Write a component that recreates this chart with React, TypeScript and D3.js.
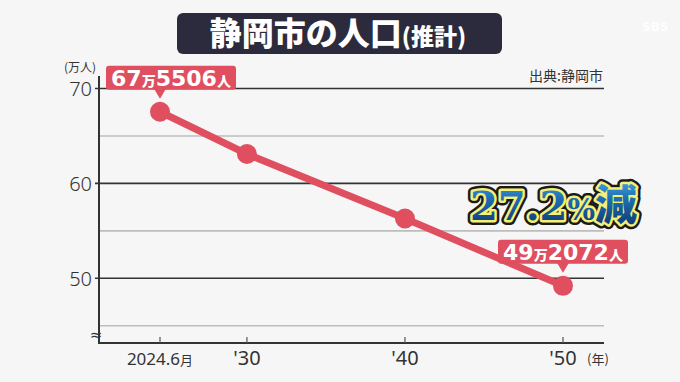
import React from "react";
import * as d3 from "d3";

const years = [2024.5, 2030, 2040, 2050];
const population = [67.5506, 63.1, 56.3, 49.2072];
const xTickLabels = ["2024.6", "'30", "'40", "'50"];
const majorTicks = [50, 60, 70];
const minorTicks = [45, 55, 65];
const calloutMan = ["67", "49"];
const calloutRest = ["5506", "2072"];
const titleMain = "静岡市の人口";
const titleSub = "(推計)";
const sourceText = "出典:静岡市";
const declineText = "27.2";

const W = 680;
const H = 382;
const CJK = "'Noto Sans CJK JP', 'Noto Sans', sans-serif";
const RED = "#df4f5f";
const DARK = "#333";

export default function App() {
  const x = d3.scaleLinear().domain([2024.5, 2050]).range([160, 563]);
  const y = d3.scaleLinear().domain([50, 70]).range([278.3, 88.5]);
  const axisLeft = 99;
  const axisRight = 604;
  const axisBottom = 343;
  const axisTop = 76;
  const pts = years.map((yr, i) => [x(yr), y(population[i])] as [number, number]);
  const line = d3.line<[number, number]>().x((d) => d[0]).y((d) => d[1]);

  const callouts = [
    { i: 0, dx: 11 },
    { i: years.length - 1, dx: 0 },
  ];

  return (
    <svg
      width={W}
      height={H}
      style={{ position: "absolute", left: 0, top: 0, display: "block" }}
      fontFamily={CJK}
    >
      <defs>
        <linearGradient id="blueGrad" x1="0" y1="0" x2="0" y2="1">
          <stop offset="0%" stopColor="#55b8ee" />
          <stop offset="45%" stopColor="#1d6fb5" />
          <stop offset="100%" stopColor="#0c2f66" />
        </linearGradient>
      </defs>
      <rect width={W} height={H} fill="#f6f6f6" />

      {/* title */}
      <rect x={177} y={13} width={325} height={41} rx={6} fill="#2c2b3d" />
      <text x={338} y={45} textAnchor="middle" fill="#fff" fontWeight={900}>
        <tspan fontSize={32}>{titleMain}</tspan>
        <tspan fontSize={23}>{titleSub}</tspan>
      </text>

      {/* watermark */}
      <text x={642} y={31} fill="#fff" fontSize={12} fontWeight={700} opacity={0.9} fontFamily="'DejaVu Sans', sans-serif">
        SBS
      </text>

      {/* units & source */}
      <text x={80} y={72} textAnchor="middle" fontSize={12} fill={DARK}>(万人)</text>
      <text x={603} y={81} textAnchor="end" fontSize={14} fill={DARK}>{sourceText}</text>

      {/* gridlines */}
      {minorTicks.map((t) => (
        <line key={"m" + t} x1={axisLeft} x2={axisRight} y1={y(t)} y2={y(t)} stroke="#bdbdbd" strokeWidth={1.6} />
      ))}
      {majorTicks.map((t) => (
        <g key={"M" + t}>
          <line x1={axisLeft - 4} x2={axisRight} y1={y(t)} y2={y(t)} stroke={DARK} strokeWidth={1.6} />
          <text
            x={92}
            y={y(t)}
            dy="0.36em"
            textAnchor="end"
            fontSize={20}
            fontWeight={300}
            fill={DARK}
            fontFamily="'Noto Sans', sans-serif"
          >
            {t}
          </text>
        </g>
      ))}

      {/* axes */}
      <line x1={axisLeft} x2={axisLeft} y1={axisTop} y2={axisBottom + 1} stroke={DARK} strokeWidth={2} />
      <line x1={axisLeft} x2={axisRight} y1={axisBottom} y2={axisBottom} stroke={DARK} strokeWidth={2} />
      <text x={96} y={340} textAnchor="middle" fontSize={15} fill={DARK} fontFamily="'DejaVu Sans', sans-serif">≈</text>

      {years.map((yr, i) => (
        <g key={"x" + yr}>
          <line x1={x(yr)} x2={x(yr)} y1={axisBottom - 6} y2={axisBottom} stroke="#555" strokeWidth={1.2} />
          <text x={x(yr)} y={365} textAnchor="middle" fill={DARK} fontFamily="'Noto Sans', sans-serif">
            {i === 0 ? (
              <>
                <tspan fontSize={17}>{xTickLabels[i]}</tspan>
                <tspan fontSize={13} fontFamily={CJK}>月</tspan>
              </>
            ) : (
              <tspan fontSize={20}>{xTickLabels[i]}</tspan>
            )}
          </text>
        </g>
      ))}
      <text x={598} y={364} textAnchor="middle" fontSize={13} fill={DARK}>(年)</text>

      {/* data line */}
      <path d={line(pts) || ""} fill="none" stroke={RED} strokeWidth={7} strokeLinejoin="round" />
      {pts.map((p, i) => (
        <circle key={"c" + i} cx={p[0]} cy={p[1]} r={10} fill={RED} />
      ))}

      {/* callouts */}
      {callouts.map((c, k) => {
        const [px, py] = pts[c.i];
        const tip = py - 13;
        const bh = 24;
        const bw = 130;
        const bb = tip - 9;
        const cx = px + c.dx;
        return (
          <g key={"co" + k}>
            <rect x={cx - bw / 2} y={bb - bh} width={bw} height={bh} rx={3} fill={RED} />
            <path d={`M${px - 6},${bb - 1} L${px + 6},${bb - 1} L${px},${tip} Z`} fill={RED} />
            <text x={cx} y={bb - 4} textAnchor="middle" fill="#fff" fontWeight={700}>
              <tspan fontSize={22} fontFamily="'DejaVu Sans', sans-serif">{calloutMan[k]}</tspan>
              <tspan fontSize={14} fontFamily={CJK} fontWeight={900}>万</tspan>
              <tspan fontSize={22} fontFamily="'DejaVu Sans', sans-serif">{calloutRest[k]}</tspan>
              <tspan fontSize={14} fontFamily={CJK} fontWeight={900}>人</tspan>
            </text>
          </g>
        );
      })}

      {/* decline label */}
      {[
        { stroke: "#1a1a1a", sw: 10, fill: "#1a1a1a" },
        { stroke: "#f3ef78", sw: 5, fill: "url(#blueGrad)" },
      ].map((s, k) => (
        <text
          key={"d" + k}
          x={637}
          y={220}
          textAnchor="end"
          fontWeight={700}
          fill={s.fill}
          stroke={s.stroke}
          strokeWidth={s.sw}
          strokeLinejoin="round"
          paintOrder="stroke"
        >
          <tspan fontSize={40} fontFamily="'DejaVu Serif', serif">{declineText}</tspan>
          <tspan fontSize={29} fontFamily="'DejaVu Serif', serif">%</tspan>
          <tspan fontSize={42} fontFamily={CJK} fontWeight={900}>減</tspan>
        </text>
      ))}
    </svg>
  );
}
